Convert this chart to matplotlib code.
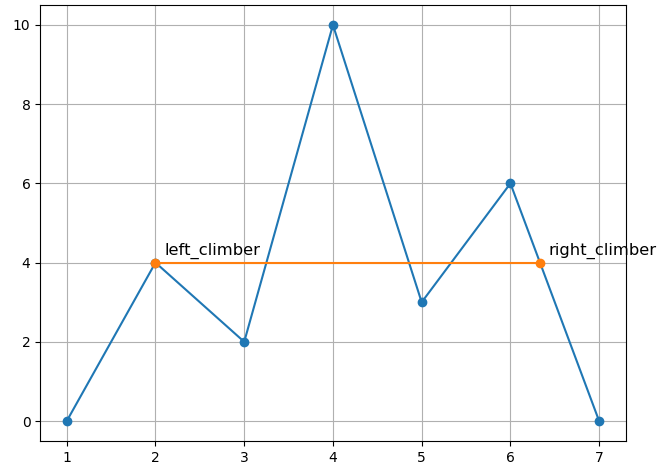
import numpy as np
import matplotlib
matplotlib.use("Agg")
import matplotlib.pyplot as plt

X = [1, 2, 3, 4, 5, 6, 7]
HEIGHTS = [0, 4, 2, 10, 3, 6, 0]
WATER_LEVEL = 4
LEFT_X = 2
RIGHT_X = 6 + 1 / 3
LABELS = ["left_climber", "right_climber"]

fig = plt.figure(figsize=(6.58, 4.67), dpi=100)
ax = fig.add_axes([0.061, 0.056, 0.890, 0.933])
ax.plot(X, HEIGHTS, marker="o")
ax.plot([LEFT_X, RIGHT_X], [WATER_LEVEL, WATER_LEVEL], marker="o")
for x, lab in zip([LEFT_X, RIGHT_X], LABELS):
    ax.text(x + 0.1, WATER_LEVEL + 0.2, lab, fontsize=11.8)
ax.grid(True)
fig.savefig("out.png", dpi=100)
